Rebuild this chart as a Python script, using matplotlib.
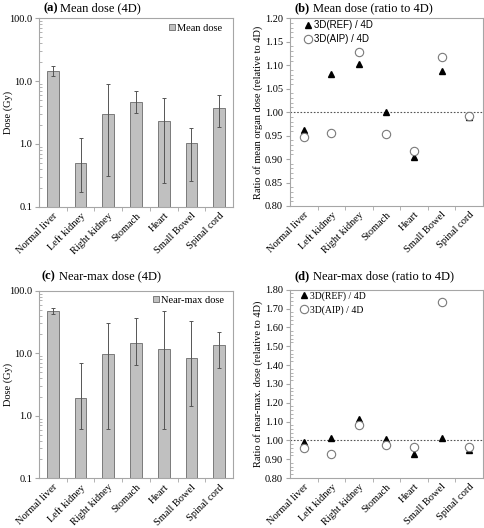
import matplotlib
matplotlib.use("Agg")
import matplotlib.pyplot as plt
import numpy as np
from matplotlib.ticker import FixedLocator, NullFormatter, FormatStrFormatter, MultipleLocator
from matplotlib.transforms import blended_transform_factory

plt.rcParams['font.family'] = ['Liberation Serif', 'DejaVu Serif']

organs = ["Normal liver", "Left kidney", "Right kidney", "Stomach", "Heart", "Small Bowel", "Spinal cord"]

mean_dose = [14.6, 0.50, 3.0, 4.7, 2.32, 1.03, 3.75]
mean_low = [11.9, 0.17, 0.31, 3.15, 0.24, 0.26, 1.89]
mean_high = [17.1, 1.26, 8.9, 7.0, 5.46, 1.78, 6.0]

nmax_dose = [47.5, 1.9, 9.6, 14.4, 11.9, 8.4, 13.5]
nmax_low = [42.3, 0.61, 0.61, 6.5, 0.61, 1.41, 5.7]
nmax_high = [53.5, 6.9, 31.0, 37.0, 46.5, 32.4, 21.6]

mean_ref = [0.962, 1.081, 1.103, 1.000, 0.904, 1.087, 0.990]
mean_aip = [0.946, 0.956, 1.128, 0.953, 0.917, 1.118, 0.992]

nmax_ref = [0.991, 1.011, 1.115, 1.007, 0.927, 1.012, 0.949]
nmax_aip = [0.961, 0.929, 1.083, 0.975, 0.965, 1.736, 0.965]

W, H = 485, 528
fig = plt.figure(figsize=(W / 100, H / 100), dpi=100)

SPINE = "#a6a6a6"
BAR = "#c0c0c0"
BAR_EDGE = "#7a7a7a"
FS = 7.5


def px_axes(l, t, r, b):
    ax = fig.add_axes([l / W, 1 - b / H, (r - l) / W, (b - t) / H])
    ax._px = (l, t, r, b)
    return ax


def set_ylabel_px(ax, text, xpx):
    ax.set_ylabel(text, fontsize=FS)
    tr = blended_transform_factory(fig.transFigure, ax.transAxes)
    ax.yaxis.set_label_coords(xpx / W, 0.5, transform=tr)
    ax.yaxis.label.set_va("center")


def style_common(ax):
    for s in ax.spines.values():
        s.set_color(SPINE)
        s.set_linewidth(0.8)
    n = len(organs)
    ax.set_xlim(-0.5, n - 0.5)
    ax.set_xticks(np.arange(n))
    ax.set_xticklabels(organs, rotation=45, ha="right", rotation_mode="anchor", fontsize=FS)
    ax.tick_params(axis="x", which="major", length=0, pad=3)
    ax.xaxis.set_minor_locator(FixedLocator(np.arange(0.5, n - 0.5, 1.0)))
    ax.tick_params(axis="x", which="minor", length=3, color=SPINE, direction="out")
    ax.tick_params(axis="y", which="major", labelsize=FS, length=3, color=SPINE, direction="out", pad=2)
    ax.tick_params(axis="y", which="minor", length=2, color=SPINE, direction="in")


def legend_px(ax, xpx, ypx, **kw):
    l, t, r, b = ax._px
    return ax.legend(loc="upper left", bbox_to_anchor=((xpx - l) / (r - l), (b - ypx) / (b - t)),
                     frameon=False, borderaxespad=0, borderpad=0, **kw)


def bar_panel(ax, vals, lo, hi, label, leg_x, leg_y):
    x = np.arange(len(organs))
    vals = np.array(vals)
    yerr = [vals - np.array(lo), np.array(hi) - vals]
    ax.bar(x, vals, width=0.42, color=BAR, edgecolor=BAR_EDGE, linewidth=0.7, label=label, zorder=2)
    ax.errorbar(x, vals, yerr=yerr, fmt="none", ecolor="#555555", elinewidth=0.7, capsize=1.5,
                capthick=0.7, zorder=3)
    ax.set_yscale("log")
    ax.set_ylim(0.1, 100)
    ax.yaxis.set_major_locator(FixedLocator([0.1, 1, 10, 100]))
    ax.yaxis.set_major_formatter(FormatStrFormatter("%.1f"))
    minors = [m * 10.0 ** e for e in range(-1, 2) for m in range(2, 10)]
    ax.yaxis.set_minor_locator(FixedLocator(minors))
    ax.yaxis.set_minor_formatter(NullFormatter())
    style_common(ax)
    set_ylabel_px(ax, "Dose (Gy)", 8)
    legend_px(ax, leg_x, leg_y, fontsize=FS, handlelength=0.55, handleheight=0.55, handletextpad=0.25)


def ratio_panel(ax, ref, aip, ylo, yhi, step, minor, ylabel, legend_font, leg_x, leg_y):
    x = np.arange(len(organs))
    ax.plot(x, ref, linestyle="none", marker="^", markersize=4.5, color="black", label="3D(REF) / 4D", zorder=3)
    ax.plot(x, aip, linestyle="none", marker="o", markersize=6, markerfacecolor="white",
            markeredgecolor="#7a7a7a", markeredgewidth=0.8, label="3D(AIP) / 4D", zorder=4)
    ax.axhline(1.0, color="#555555", linestyle=(0, (1.5, 1.5)), linewidth=0.8, zorder=1)
    ax.set_ylim(ylo, yhi)
    ax.yaxis.set_major_locator(MultipleLocator(step))
    ax.yaxis.set_minor_locator(MultipleLocator(minor))
    ax.yaxis.set_major_formatter(FormatStrFormatter("%.2f"))
    style_common(ax)
    set_ylabel_px(ax, ylabel, 258)
    legend_px(ax, leg_x, leg_y, prop={"family": legend_font, "size": FS - 0.5},
              handlelength=0.8, handletextpad=0.25, labelspacing=0.45)


ax_a = px_axes(39, 18.3, 233, 206.7)
bar_panel(ax_a, mean_dose, mean_low, mean_high, "Mean dose", 169, 24)

ax_b = px_axes(290, 18.3, 483, 206)
ratio_panel(ax_b, mean_ref, mean_aip, 0.80, 1.20, 0.05, 0.01,
            "Ratio of mean organ dose (relative to 4D)", "Liberation Sans", 304, 20)

ax_c = px_axes(39, 290.7, 233, 478.3)
bar_panel(ax_c, nmax_dose, nmax_low, nmax_high, "Near-max dose", 153, 296)

ax_d = px_axes(290, 289.7, 483, 478)
ratio_panel(ax_d, nmax_ref, nmax_aip, 0.80, 1.80, 0.10, 0.02,
            "Ratio of near-max. dose (relative to 4D)", "Liberation Serif", 300, 291)


def panel_title(x, y, tag, text):
    t = fig.text(x / W, 1 - y / H, tag, fontsize=9, fontweight="bold", va="center", ha="left")
    fig.canvas.draw()
    bb = t.get_window_extent()
    fig.text((bb.x1 + 3) / W, 1 - y / H, text, fontsize=9, va="center", ha="left")


panel_title(43, 8.5, "(a)", "Mean dose (4D)")
panel_title(295, 8.5, "(b)", "Mean dose (ratio to 4D)")
panel_title(42, 276, "(c)", "Near-max dose (4D)")
panel_title(295, 276, "(d)", "Near-max dose (ratio to 4D)")

fig.savefig("out.png", dpi=100)
